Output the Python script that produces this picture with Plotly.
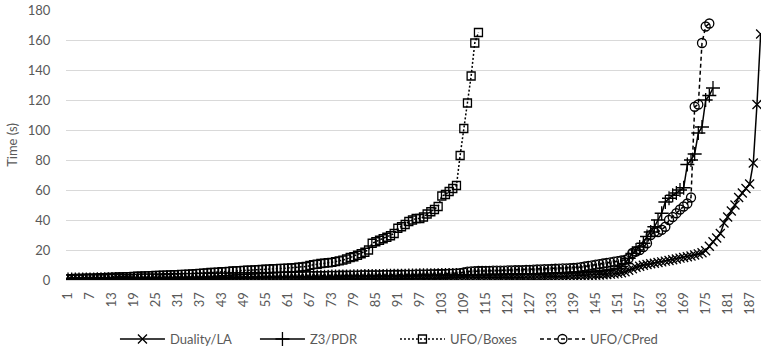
import plotly.graph_objects as go

# ---- data ----
duality_la = [
    0.1, 0.1, 0.1, 0.1, 0.1, 0.2, 0.2, 0.2, 0.2, 0.2,
    0.2, 0.2, 0.2, 0.3, 0.3, 0.3, 0.3, 0.3, 0.3, 0.3,
    0.3, 0.3, 0.4, 0.4, 0.4, 0.4, 0.4, 0.4, 0.4, 0.4,
    0.5, 0.5, 0.5, 0.5, 0.5, 0.5, 0.5, 0.5, 0.5, 0.5,
    0.5, 0.5, 0.5, 0.5, 0.6, 0.6, 0.6, 0.6, 0.6, 0.6,
    0.6, 0.6, 0.7, 0.7, 0.7, 0.7, 0.7, 0.7, 0.7, 0.7,
    0.8, 0.8, 0.8, 0.8, 0.8, 0.8, 0.8, 0.8, 0.8, 0.8,
    0.8, 0.8, 0.8, 0.9, 0.9, 0.9, 0.9, 0.9, 0.9, 0.9,
    1.0, 1.0, 1.0, 1.0, 1.0, 1.0, 1.0, 1.0, 1.0, 1.0,
    1.0, 1.0, 1.0, 1.1, 1.1, 1.1, 1.1, 1.1, 1.2, 1.2,
    1.2, 1.2, 1.2, 1.3, 1.3, 1.3, 1.3, 1.4, 1.4, 1.4,
    1.4, 1.5, 1.5, 1.5, 1.5, 1.6, 1.6, 1.6, 1.7, 1.7,
    1.7, 1.8, 1.8, 1.8, 1.9, 1.9, 2.0, 2.0, 2.1, 2.1,
    2.2, 2.2, 2.3, 2.3, 2.4, 2.4, 2.5, 2.6, 2.6, 2.7,
    2.8, 2.9, 3.0, 3.1, 3.2, 3.3, 3.5, 3.7, 3.9, 4.1,
    4.4, 4.8, 5.5, 6.5, 7.5, 8.5, 9.2, 9.8, 10.3, 10.8,
    11.2, 11.7, 12.1, 12.6, 13.0, 13.5, 14.0, 14.6, 15.0, 15.5,
    16.0, 16.7, 17.4, 18.2, 19.5, 22.5, 25.5, 28.0, 31.0, 38.0,
    42.0, 46.0, 50.0, 55.0, 58.0, 61.0, 64.0, 78.0, 117.0, 164.0,
]

z3_pdr = [
    0.3, 0.3, 0.3, 0.4, 0.4, 0.4, 0.4, 0.4, 0.5, 0.5,
    0.5, 0.5, 0.5, 0.6, 0.6, 0.6, 0.6, 0.6, 0.7, 0.7,
    0.7, 0.7, 0.8, 0.8, 0.8, 0.8, 0.9, 0.9, 0.9, 0.9,
    1.0, 1.0, 1.0, 1.0, 1.1, 1.1, 1.1, 1.1, 1.2, 1.2,
    1.2, 1.2, 1.3, 1.3, 1.3, 1.4, 1.4, 1.4, 1.5, 1.5,
    1.5, 1.6, 1.6, 1.6, 1.7, 1.7, 1.7, 1.8, 1.8, 1.8,
    1.9, 1.9, 1.9, 2.0, 2.0, 2.0, 2.1, 2.1, 2.1, 2.2,
    2.2, 2.2, 2.3, 2.3, 2.3, 2.4, 2.4, 2.4, 2.5, 2.5,
    2.5, 2.6, 2.6, 2.6, 2.7, 2.7, 2.7, 2.8, 2.8, 2.8,
    2.9, 2.9, 2.9, 3.0, 3.0, 3.0, 3.1, 3.1, 3.1, 3.2,
    3.2, 3.2, 3.3, 3.3, 3.3, 3.4, 3.4, 3.4, 3.5, 3.5,
    3.5, 3.6, 3.6, 3.6, 3.7, 3.7, 3.7, 3.8, 3.8, 3.8,
    3.9, 3.9, 3.9, 4.0, 4.0, 4.0, 4.1, 4.1, 4.2, 4.2,
    4.3, 4.3, 4.4, 4.5, 4.6, 4.7, 4.8, 4.9, 5.0, 5.1,
    5.2, 5.3, 5.4, 5.6, 5.8, 6.0, 6.2, 6.5, 6.8, 7.2,
    7.8, 9.0, 11.0, 14.5, 17.8, 20.0, 22.0, 24.5, 29.0, 32.0,
    35.5, 40.0, 44.5, 52.0, 54.5, 56.5, 58.0, 60.0, 61.5, 77.0,
    80.0, 84.0, 98.0, 102.0, 120.0, 123.0, 128.0,
]

ufo_boxes = [
    0.8, 0.9, 1.0, 1.0, 1.1, 1.2, 1.3, 1.3, 1.4, 1.5,
    1.6, 1.7, 1.8, 1.9, 2.0, 2.1, 2.2, 2.3, 2.4, 2.5,
    2.6, 2.7, 2.8, 2.9, 3.0, 3.1, 3.2, 3.3, 3.4, 3.5,
    3.6, 3.7, 3.8, 3.9, 4.0, 4.2, 4.4, 4.6, 4.8, 5.0,
    5.1, 5.3, 5.5, 5.6, 5.8, 6.0, 6.1, 6.3, 6.4, 6.5,
    6.6, 6.8, 6.9, 7.0, 7.2, 7.3, 7.5, 7.6, 7.7, 7.8,
    7.9, 8.0, 8.2, 8.5, 8.8, 9.0, 9.8, 10.2, 10.5, 11.0,
    11.2, 11.5, 11.8, 12.2, 12.7, 13.3, 14.0, 15.0, 15.5, 16.5,
    17.5, 18.5, 20.0, 24.5, 25.5, 26.5, 27.5, 28.5, 29.5, 31.0,
    34.5, 35.5, 37.0, 39.0, 40.0, 41.0, 41.0, 42.0, 44.0, 45.5,
    47.0, 49.0, 56.0, 57.0, 59.0, 61.0, 63.0, 83.0, 101.0, 118.0,
    136.0, 158.0, 165.0,
]

ufo_cpred = [
    0.5, 0.5, 0.6, 0.6, 0.6, 0.7, 0.7, 0.7, 0.8, 0.8,
    0.8, 0.9, 0.9, 0.9, 1.0, 1.0, 1.0, 1.1, 1.1, 1.1,
    1.2, 1.2, 1.2, 1.3, 1.3, 1.3, 1.4, 1.4, 1.4, 1.5,
    1.5, 1.5, 1.6, 1.6, 1.6, 1.7, 1.7, 1.7, 1.8, 1.8,
    1.8, 1.9, 1.9, 1.9, 2.0, 2.0, 2.0, 2.1, 2.1, 2.1,
    2.2, 2.2, 2.2, 2.3, 2.3, 2.3, 2.4, 2.4, 2.4, 2.5,
    2.5, 2.5, 2.6, 2.6, 2.6, 2.7, 2.7, 2.7, 2.8, 2.8,
    2.8, 2.9, 2.9, 2.9, 3.0, 3.0, 3.0, 3.1, 3.1, 3.1,
    3.2, 3.2, 3.2, 3.3, 3.3, 3.3, 3.4, 3.4, 3.4, 3.5,
    3.5, 3.5, 3.6, 3.6, 3.6, 3.7, 3.7, 3.8, 3.8, 3.9,
    3.9, 4.0, 4.0, 4.1, 4.2, 4.3, 4.4, 4.6, 5.0, 5.6,
    5.8, 5.9, 6.0, 6.0, 6.1, 6.1, 6.2, 6.2, 6.3, 6.3,
    6.4, 6.4, 6.5, 6.5, 6.6, 6.7, 6.8, 6.9, 7.0, 7.1,
    7.2, 7.3, 7.4, 7.5, 7.6, 7.7, 7.8, 7.9, 8.0, 8.2,
    8.6, 9.0, 9.4, 9.8, 10.2, 10.6, 11.0, 11.4, 11.8, 12.2,
    12.6, 13.0, 13.4, 14.5, 18.0, 19.0, 20.0, 22.0, 24.5, 30.0,
    32.0, 32.0, 33.5, 35.5, 40.0, 42.0, 44.5, 47.0, 49.0, 51.0,
    55.0, 115.5, 117.0, 158.0, 169.0, 171.0,
]

n_categories = 190
categories = list(range(1, n_categories + 1))
x_tick_values = list(range(1, n_categories + 1, 6))
x_tick_labels = [str(v) for v in x_tick_values]
y_tick_values = [0, 20, 40, 60, 80, 100, 120, 140, 160, 180]

FONT = "Lato"
GREY = "#595959"
GRID = "#d9d9d9"

series = [
    ("Duality/LA", duality_la, "x-thin", "solid", 9),
    ("Z3/PDR", z3_pdr, "cross-thin", "solid", 10),
    ("UFO/Boxes", ufo_boxes, "square-open", "2px,2px", 8),
    ("UFO/CPred", ufo_cpred, "circle-open", "4px,3px", 9),
]

fig = go.Figure()
for name, vals, sym, dash, size in series:
    fig.add_trace(go.Scatter(
        x=categories[:len(vals)], y=vals, name=name, mode="lines+markers",
        line=dict(color="black", width=1.5, dash=dash),
        marker=dict(symbol=sym, size=size, color="black",
                    line=dict(color="black", width=1.3)),
    ))

fig.update_layout(
    width=761, height=351,
    margin=dict(l=66, r=0, t=10, b=71),
    paper_bgcolor="white", plot_bgcolor="white",
    font=dict(family=FONT, size=13, color=GREY),
    showlegend=True,
    legend=dict(orientation="h", xref="container", yref="container",
                x=0.519, xanchor="center", y=0.034, yanchor="middle",
                font=dict(family=FONT, size=13, color=GREY),
                entrywidth=80, itemwidth=45, traceorder="normal"),
)
fig.update_xaxes(
    range=[0.45, 190.1], tickmode="array", tickvals=x_tick_values,
    ticktext=x_tick_labels, tickangle=-90, showgrid=False,
    showline=True, linecolor=GRID, linewidth=1, zeroline=False,
    ticks="outside", ticklen=6, tickcolor="rgba(0,0,0,0)",
    tickfont=dict(family=FONT, size=13, color=GREY), automargin=False,
)
fig.update_yaxes(
    range=[0, 180], tickmode="array", tickvals=y_tick_values,
    showgrid=True, gridcolor=GRID, gridwidth=1, zeroline=False,
    showline=False, ticks="outside", ticklen=12, tickcolor="rgba(0,0,0,0)",
    tickfont=dict(family=FONT, size=13, color=GREY), automargin=False,
    title=dict(text="Time (s)", standoff=7,
               font=dict(family=FONT, size=13, color=GREY)),
)

fig.write_html("out.html")
